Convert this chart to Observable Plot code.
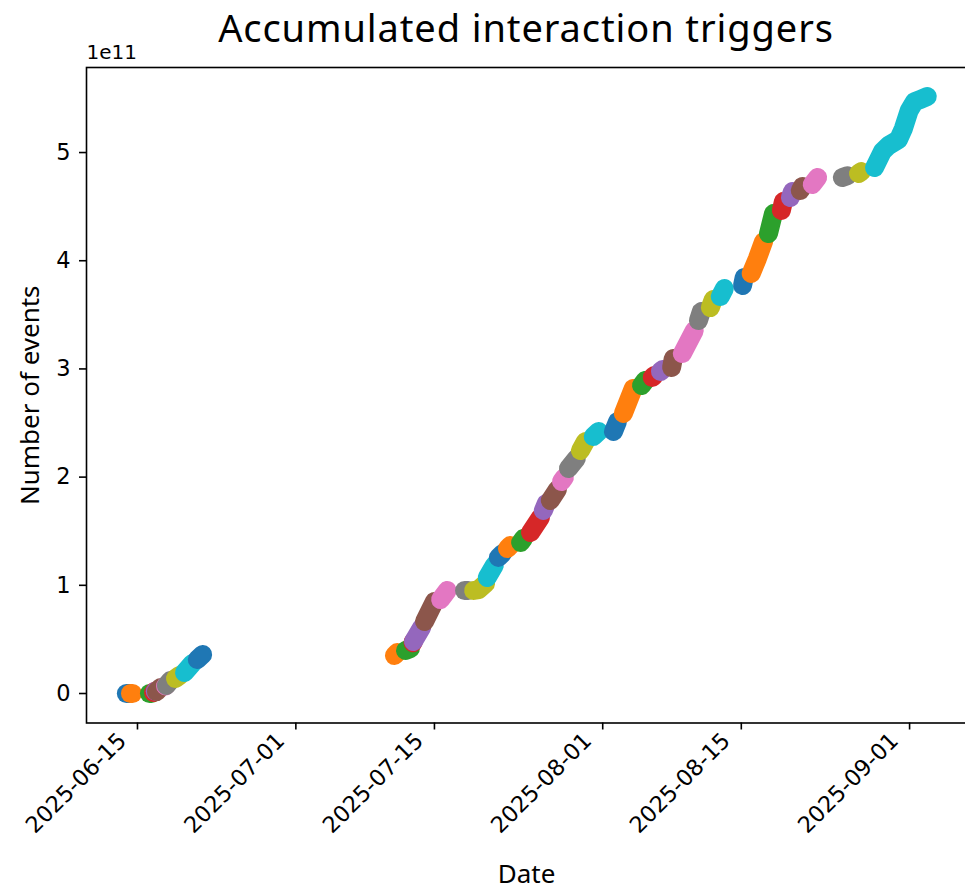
<!DOCTYPE html>
<html><head><meta charset="utf-8">
<script src="https://cdn.jsdelivr.net/npm/d3@7"></script>
<script src="https://cdn.jsdelivr.net/npm/@observablehq/plot@0.6"></script>
<style>
html,body{margin:0;padding:0;background:#fff;overflow:hidden}
#wrap{position:relative;width:965px;height:891px}
#title{position:absolute;left:87px;width:878px;top:8px;text-align:center;font-family:"Noto Sans";font-size:38px;letter-spacing:0.9px;line-height:1;color:#000;white-space:nowrap}
#chart{position:absolute;left:0;top:0}
</style></head><body>
<div id="wrap"><div id="chart"></div><div id="title">Accumulated interaction triggers</div></div>
<script>
// Each batch = one colour run of scatter points (timestamps UTC), values in units of 1e11 events
const batchTimes = [
  ["2025-06-13T21:00","2025-06-14T05:00"],
  ["2025-06-14T07:00","2025-06-14T12:00"],
  ["2025-06-16T05:00","2025-06-16T10:00"],
  ["2025-06-16T15:00","2025-06-16T17:00"],
  ["2025-06-16T19:00","2025-06-16T20:00"],
  ["2025-06-16T22:00","2025-06-17T08:00"],
  ["2025-06-17T20:00","2025-06-17T21:00"],
  ["2025-06-17T22:00","2025-06-18T08:00"],
  ["2025-06-18T20:00","2025-06-19T06:00"],
  ["2025-06-19T18:00","2025-06-20T13:00"],
  ["2025-06-21T01:00","2025-06-21T14:00"],
  ["2025-07-10T23:00","2025-07-11T06:00"],
  ["2025-07-12T02:00","2025-07-12T14:00"],
  ["2025-07-12T20:00","2025-07-12T21:00"],
  ["2025-07-12T21:00","2025-07-13T17:00"],
  ["2025-07-14T00:00","2025-07-15T00:00"],
  ["2025-07-15T15:00","2025-07-16T07:00"],
  ["2025-07-18T01:00","2025-07-18T10:00"],
  ["2025-07-18T23:00","2025-07-19T11:00","2025-07-20T04:00"],
  ["2025-07-20T08:00","2025-07-21T01:00"],
  ["2025-07-21T11:00","2025-07-21T21:00"],
  ["2025-07-22T09:00","2025-07-22T16:00"],
  ["2025-07-23T17:00","2025-07-24T00:00"],
  ["2025-07-24T17:00","2025-07-25T17:00"],
  ["2025-07-26T00:00","2025-07-26T07:00"],
  ["2025-07-26T17:00","2025-07-27T10:00"],
  ["2025-07-27T20:00","2025-07-28T03:00"],
  ["2025-07-28T13:00","2025-07-29T08:00"],
  ["2025-07-29T18:00","2025-07-30T06:00"],
  ["2025-07-31T01:00","2025-07-31T14:00"],
  ["2025-08-02T02:00","2025-08-02T12:00"],
  ["2025-08-03T02:00","2025-08-04T02:00"],
  ["2025-08-04T22:00","2025-08-05T07:00"],
  ["2025-08-06T00:00","2025-08-06T05:00"],
  ["2025-08-06T20:00","2025-08-07T01:00"],
  ["2025-08-07T23:00","2025-08-08T03:00"],
  ["2025-08-09T01:00","2025-08-10T06:00"],
  ["2025-08-10T16:00","2025-08-10T23:00"],
  ["2025-08-11T21:00","2025-08-12T04:00"],
  ["2025-08-12T21:00","2025-08-13T07:00"],
  ["2025-08-15T03:00","2025-08-15T07:00"],
  ["2025-08-16T00:00","2025-08-16T15:00","2025-08-17T06:00"],
  ["2025-08-17T18:00","2025-08-18T06:00"],
  ["2025-08-19T01:00","2025-08-19T06:00"],
  ["2025-08-19T23:00","2025-08-20T04:00"],
  ["2025-08-20T23:00","2025-08-21T04:00"],
  ["2025-08-22T04:00","2025-08-22T17:00"],
  ["2025-08-25T05:00","2025-08-25T17:00"],
  ["2025-08-26T20:00","2025-08-27T03:00"],
  ["2025-08-28T11:00","2025-08-29T06:00","2025-08-29T21:00","2025-08-30T21:00","2025-08-31T09:00","2025-08-31T23:00","2025-09-01T12:00","2025-09-02T02:00","2025-09-02T19:00"]
];
const batchValues = [
  [0,0],[0,0],[0,0],[0.009,0.018],[0.02,0.02],[0.018,0.055],[0.07,0.074],[0.074,0.12],[0.139,0.166],[0.194,0.277],[0.314,0.36],
  [0.351,0.379],[0.397,0.416],[0.47,0.481],[0.481,0.61],[0.665,0.85],[0.869,0.952],[0.952,0.952],[0.952,0.96,1.017],[1.072,1.183],
  [1.257,1.294],[1.34,1.368],[1.396,1.433],[1.488,1.627],[1.691,1.756],[1.784,1.885],[1.959,1.996],[2.08,2.172],[2.246,2.329],[2.375,2.421],
  [2.421,2.514],[2.588,2.819],[2.847,2.893],[2.92,2.939],[2.976,2.994],[3.013,3.096],[3.142,3.355],[3.447,3.53],[3.567,3.641],[3.669,3.743],
  [3.771,3.845],[3.882,4.02,4.177],[4.251,4.436],[4.464,4.547],[4.584,4.64],[4.649,4.686],[4.704,4.769],[4.77,4.785],[4.806,4.824],
  [4.861,5.009,5.065,5.12,5.222,5.388,5.471,5.49,5.518]
];
const xTickDates = ["2025-06-15","2025-07-01","2025-07-15","2025-08-01","2025-08-15","2025-09-01"];
const yTickValues = [0,1,2,3,4,5];
const xDomain = ["2025-06-09T20:24","2025-09-06T18:00"];
const yDomain = [-0.2726, 5.786];

const utc = s => new Date(s + (s.length === 10 ? "T00:00Z" : "Z"));
const rows = batchTimes.flatMap((ts, b) => ts.map((t, i) => ({batch: b, date: utc(t), value: batchValues[b][i]})));
const nB = batchTimes.length;
const tab10 = d3.schemeCategory10;

const W = 965, H = 891;
const plot = Plot.plot({
  width: W, height: H,
  marginLeft: 86, marginRight: -1, marginTop: 67, marginBottom: H - 722.5,
  style: {fontFamily: "DejaVu Sans", fontSize: "22px", background: "white", overflow: "visible"},
  x: {type: "utc", domain: xDomain.map(utc)},
  y: {domain: yDomain},
  color: {type: "ordinal", domain: d3.range(nB), range: d3.range(nB).map(i => tab10[i % 10])},
  marks: [
    Plot.line(rows, {x: "date", y: "value", z: "batch", stroke: "batch", strokeWidth: 19, strokeLinecap: "round", strokeLinejoin: "round"}),
    Plot.frame({stroke: "black", strokeWidth: 1.6}),
    Plot.axisY({ticks: yTickValues, tickSize: 7, tickPadding: 9, tickFormat: d => String(d), label: null, fontSize: 22.5, strokeWidth: 1.6}),
    Plot.axisX({ticks: xTickDates.map(utc), tickSize: 7, tickFormat: () => "", label: null, strokeWidth: 1.6}),
    Plot.axisX({ticks: xTickDates.map(utc), tickSize: 0, tickPadding: 14, tickRotate: -45, dx: -15, tickFormat: d3.utcFormat("%Y-%m-%d"), label: null, fontSize: 22.5}),
    Plot.text(["1e11"], {frameAnchor: "top-left", textAnchor: "start", lineAnchor: "middle", dy: -14.5, fontSize: 20}),
    Plot.text(["Number of events"], {frameAnchor: "left", rotate: -90, textAnchor: "middle", dx: -56, lineAnchor: "middle", fontFamily: "Noto Sans", fontSize: 26}),
    Plot.text(["Date"], {frameAnchor: "bottom", textAnchor: "middle", dy: 151.5, lineAnchor: "middle", fontFamily: "Noto Sans", fontSize: 26})
  ]
});
document.getElementById("chart").appendChild(plot);
</script>
</body></html>
